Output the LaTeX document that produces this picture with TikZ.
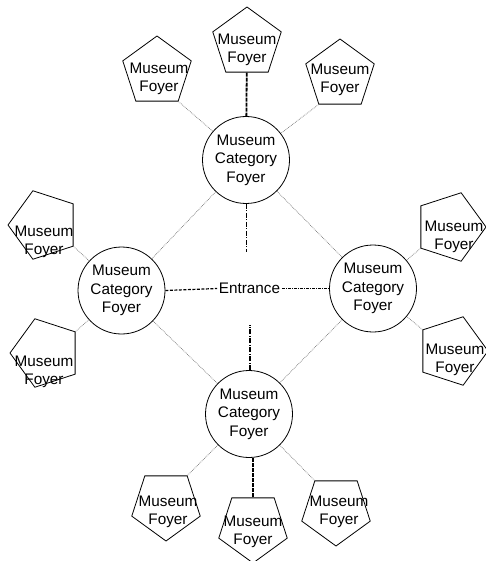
\documentclass[tikz,border=0pt]{standalone}
\usepackage{fontspec}
\setmainfont{Liberation Sans}
\usetikzlibrary{shapes.geometric}

\tikzset{
    hall/.style={circle, draw, line width=0.8pt, minimum size=87pt, inner sep=0pt,
        align=center, font=\fontsize{15.3}{18.5}\selectfont},
    foyer/.style={regular polygon, regular polygon sides=5, draw, line width=0.8pt,
        minimum size=72pt, inner sep=0pt},
    ftext/.style={align=center, inner sep=0pt, font=\fontsize{15.3}{18.5}\selectfont},
    thinlink/.style={black!55, line width=0.7pt, densely dotted},
    mainlink/.style={line width=1.8pt, dash pattern=on 4pt off 1pt},
    entleft/.style={line width=1.2pt, dash pattern=on 3pt off 1.5pt},
    entright/.style={line width=0.9pt, dash pattern=on 3pt off 1pt on 1pt off 1pt},
    stub/.style={dash pattern=on 5pt off 1.5pt on 1pt off 1.5pt}
}

\begin{document}
\begin{tikzpicture}[x=1pt, y=-1pt]
    \useasboundingbox (0,0) rectangle (485,561);

    % category foyers
    \node[hall] (top) at (246,160) {Museum\\Category\\Foyer};
    \node[hall] (left) at (121.5,290.5) {Museum\\Category\\Foyer};
    \node[hall] (right) at (373,288.5) {Museum\\Category\\Foyer};
    \node[hall] (bot) at (249,414) {Museum\\Category\\Foyer};
    \node[ftext, inner sep=1.5pt] (ent) at (249.5,288.5) {Entrance};

    % museum foyers
    \node[foyer] (ftop) at (247,43) {};
    \node[ftext] (ftop-t) at (247,50) {Museum\\Foyer};
    \node[foyer] (ftl) at (157,72) {};
    \node[ftext] (ftl-t) at (159,79) {Museum\\Foyer};
    \node[foyer] (ftr) at (340,75) {};
    \node[ftext] (ftr-t) at (340,80) {Museum\\Foyer};

    \node[foyer, shape border rotate=90] (flt) at (44,225) {};
    \node[ftext] (flt-t) at (44,242) {Museum\\Foyer};
    \node[foyer, shape border rotate=90] (flb) at (46,353) {};
    \node[ftext] (flb-t) at (44,372) {Museum\\Foyer};

    \node[foyer, shape border rotate=-90] (frt) at (450,227) {};
    \node[ftext] (frt-t) at (454,237) {Museum\\Foyer};
    \node[foyer, shape border rotate=-90] (frb) at (452,351) {};
    \node[ftext] (frb-t) at (455,360) {Museum\\Foyer};

    \node[foyer, shape border rotate=180] (fbl) at (166,505) {};
    \node[ftext] (fbl-t) at (168,512) {Museum\\Foyer};
    \node[foyer, shape border rotate=180] (fbm) at (253,527) {};
    \node[ftext] (fbm-t) at (253,532) {Museum\\Foyer};
    \node[foyer, shape border rotate=180] (fbr) at (336,510) {};
    \node[ftext] (fbr-t) at (339,512) {Museum\\Foyer};

    % links between category foyers
    \draw[thinlink] (left) -- (top);
    \draw[thinlink] (top) -- (right);
    \draw[thinlink] (left) -- (bot);
    \draw[thinlink] (right) -- (bot);

    % entrance
    \coordinate (topstub) at (246,252);
    \coordinate (botstub) at (250,325);
    \draw[entleft] (left.east) -- (ent.west);
    \draw[entright] (ent.east) -- (right.west);
    \draw[stub, line width=0.8pt] (top.south) -- (topstub);
    \draw[stub, line width=1.6pt] (bot.north -| botstub) -- (botstub);

    % links to museum foyers
    \draw[mainlink] (ftop) -- (top);
    \draw[thinlink] (ftl.corner 4) -- (top);
    \draw[thinlink] (ftr.corner 3) -- (top);
    \draw[thinlink] (flt.corner 3) -- (left);
    \draw[thinlink] (flb.corner 4) -- (left);
    \draw[thinlink] (frt.corner 4) -- (right);
    \draw[thinlink] (frb.corner 3) -- (right);
    \draw[thinlink] (fbl.corner 3) -- (bot);
    \draw[mainlink] (fbm.north) -- (fbm.north |- bot.south);
    \draw[thinlink] (fbr.corner 4) -- (bot);
\end{tikzpicture}
\end{document}
